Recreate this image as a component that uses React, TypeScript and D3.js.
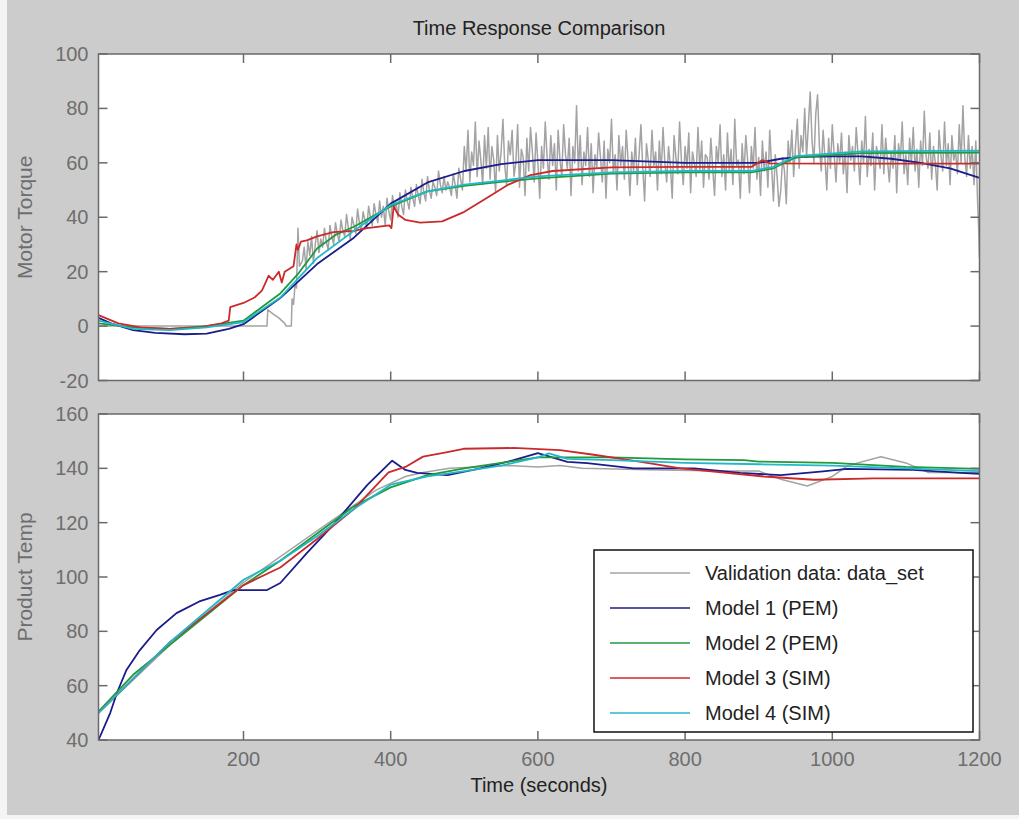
import React from 'react';
import * as d3 from 'd3';

type P = [number, number];

const xTicks = [200, 400, 600, 800, 1000, 1200];
const torqueTicks = [-20, 0, 20, 40, 60, 80, 100];
const tempTicks = [40, 60, 80, 100, 120, 140, 160];

const seriesNames = ['Validation data: data_set', 'Model 1 (PEM)', 'Model 2 (PEM)', 'Model 3 (SIM)', 'Model 4 (SIM)'];
const seriesColors = ['#a3a3a3', '#1c1c8a', '#1f9a3c', '#cc2a2a', '#22b8c8'];

// ---- Motor Torque (top) ----
const torqueGrayEarly: P[] = [
  [3, 0], [232, 0], [233, 6], [240, 4.5], [248, 3], [256, 1], [258, 0], [265, 0],
  [266, 10], [268, 8], [270, 15], [272, 14], [274, 36], [276, 22],
];
const torqueGrayStart = 280;
const torqueGrayStep = 2.5;
const torqueGrayNoise = [
  24, 29, 21, 31, 26, 33, 23, 30, 35, 27, 32, 29, 36, 31, 28, 37, 33, 30, 38, 34,
  31, 39, 35, 33, 41, 36, 32, 40, 37, 34, 43, 38, 35, 42, 39, 36, 44, 40, 37, 45,
  41, 38, 46, 40, 44, 37, 47, 42, 39, 48, 43, 45, 40, 49, 44, 41, 50, 46, 43, 51,
  47, 44, 52, 48, 45, 54, 49, 46, 55, 50, 47, 53, 51, 48, 57, 52, 49, 55, 50, 53,
  51, 48, 56, 52, 47, 58, 54, 50, 66, 57, 72, 53, 64, 59, 75, 55, 68, 61, 52, 70,
  58, 73, 54, 66, 61, 49, 70, 57, 64, 76, 59, 52, 68, 63, 72, 55, 60, 74, 51, 65,
  62, 48, 69, 57, 73, 64, 53, 71, 60, 47, 66, 58, 75, 62, 54, 70, 59, 67, 50, 72,
  61, 55, 74, 63, 58, 69, 48, 66, 60, 81, 57, 70, 52, 64, 59, 73, 55, 67, 49, 63,
  58, 71, 62, 53, 68, 47, 65, 60, 76, 56, 63, 50, 70, 59, 66, 54, 72, 61, 48, 64,
  57, 69, 52, 63, 74, 58, 46, 67, 61, 55, 72, 59, 64, 50, 68, 56, 73, 60, 53, 66,
  59, 47, 70, 62, 56, 75, 61, 52, 66, 58, 71, 49, 64, 60, 55, 73, 57, 68, 51, 63,
  62, 54, 69, 58, 48, 66, 60, 74, 55, 63, 50, 71, 57, 65, 52, 76, 59, 61, 47, 67,
  56, 70, 61, 49, 66, 58, 73, 54, 62, 48, 68, 57, 64, 51, 72, 59, 46, 63, 55, 44,
  50, 62, 57, 45, 68, 60, 72, 55, 66, 76, 58, 70, 64, 80, 62, 74, 86, 68, 60, 78,
  85, 66, 57, 72, 62, 50, 69, 58, 74, 63, 53, 67, 60, 71, 56, 64, 49, 70, 61, 66,
  57, 73, 63, 52, 68, 60, 77, 55, 65, 59, 71, 50, 66, 62, 58, 74, 56, 69, 61, 53,
  64, 58, 70, 49, 67, 61, 75, 56, 63, 52, 69, 60, 73, 57, 65, 51, 68, 59, 79, 62,
  58, 71, 54, 66, 60, 50, 72, 63, 57, 75, 59, 67, 52, 70, 61, 64, 56, 74, 60, 81,
  62, 55, 70, 58, 66, 52, 68, 45,
];
const torqueGrayEnd: P[] = [[1199, 35], [1200, 25]];

const torqueM1: P[] = [
  [3, 3], [20, 1], [50, -1.5], [80, -2.5], [120, -3], [150, -2.8], [180, -1], [200, 0.7],
  [250, 10.3], [300, 22.8], [350, 32.5], [400, 45], [450, 52.8], [500, 57], [550, 59.5],
  [600, 61], [700, 61], [800, 60], [900, 60], [930, 61.5], [960, 62.2], [1000, 62.4],
  [1040, 62.4], [1080, 61.5], [1120, 60], [1160, 58], [1200, 54.5],
];
const torqueM2: P[] = [
  [3, 1], [50, -0.5], [100, -1], [150, 0], [200, 2], [250, 12], [275, 19.5], [300, 28.5],
  [325, 33.5], [350, 36.5], [400, 44], [450, 49.5], [500, 51.5], [550, 53], [600, 54.3],
  [700, 56], [800, 56.5], [890, 56.5], [920, 58], [950, 62], [1040, 63.6], [1200, 63.8],
];
const torqueM3: P[] = [
  [3, 4], [30, 1], [60, -0.5], [100, -1], [140, -0.5], [170, 1], [180, 2], [182, 7],
  [200, 8.5], [215, 10.5], [225, 13], [230, 16], [234, 18.5], [240, 17], [248, 20],
  [252, 16], [256, 20], [262, 21], [268, 22], [272, 30], [274, 28], [278, 31], [286, 31.5],
  [300, 33], [322, 34.5], [350, 35], [368, 36], [398, 37], [401, 36], [404, 44], [410, 41],
  [420, 39], [440, 38], [470, 38.5], [500, 42], [530, 47], [560, 52], [590, 55.5],
  [620, 57], [700, 58.3], [800, 58.5], [890, 58.5], [905, 61], [915, 59.8], [1000, 59.7],
  [1200, 59.7],
];
const torqueM4: P[] = [
  [3, 2], [50, -1], [100, -1.5], [150, -0.5], [200, 1.5], [250, 10.5], [300, 25],
  [350, 35], [400, 44.5], [450, 49.5], [500, 52], [600, 55], [700, 56.5], [800, 57],
  [890, 57], [920, 58.5], [950, 62.5], [1040, 64.2], [1200, 64.5],
];

// ---- Product Temp (bottom) ----
const tempGray: P[] = [
  [3, 50], [100, 75], [200, 98], [300, 117], [380, 132], [420, 137], [444, 138.5],
  [480, 140], [560, 141], [600, 140.5], [630, 141], [660, 140], [750, 139.5], [850, 139],
  [900, 139], [930, 136], [966, 133.5], [1000, 137], [1021, 141], [1066, 144.3],
  [1100, 142], [1130, 138.5], [1200, 138.5],
];
const tempM1: P[] = [
  [3, 40], [19, 50], [28, 57.3], [41, 65.8], [59, 73], [82, 80.5], [109, 86.7], [140, 91],
  [168, 93.4], [186, 95.2], [232, 95.2], [250, 97.8], [286, 108.8], [322, 119.2],
  [368, 133.8], [402, 142.8], [420, 139.4], [436, 138.3], [477, 137.5], [522, 140],
  [567, 143], [600, 145.6], [640, 142.4], [667, 141.9], [730, 140], [812, 140],
  [875, 138.3], [930, 137.5], [984, 138.8], [1020, 139.8], [1110, 139.4], [1174, 138.3],
  [1200, 138],
];
const tempM2: P[] = [
  [3, 50.5], [50, 64], [100, 75], [150, 86], [200, 97], [250, 106], [300, 116],
  [350, 126], [400, 133], [450, 137.5], [500, 140], [550, 142], [600, 144], [700, 144],
  [800, 143.3], [880, 143], [900, 142.5], [1000, 142], [1100, 140.5], [1200, 139.8],
];
const tempM3: P[] = [
  [3, 50], [100, 76], [200, 97], [250, 103.5], [300, 114], [350, 125], [397, 138.5],
  [420, 140.5], [444, 144.3], [477, 146], [499, 147.2], [567, 147.5], [630, 146.7],
  [676, 145], [740, 142.4], [794, 140], [839, 138.8], [907, 137], [975, 135.8],
  [1057, 136.3], [1200, 136.3],
];
const tempM4: P[] = [
  [3, 50], [100, 76], [200, 99], [250, 106], [300, 115], [350, 125], [400, 134],
  [450, 137], [500, 139], [550, 141], [600, 144], [615, 145.5], [640, 143.5], [700, 143],
  [800, 142], [900, 141.5], [1000, 141], [1100, 140], [1200, 139],
];

const torqueGray: P[] = [
  ...torqueGrayEarly,
  ...torqueGrayNoise.map((v, i) => [torqueGrayStart + i * torqueGrayStep, v] as P),
  ...torqueGrayEnd,
];

const FONT = "'Liberation Sans', Arial, Helvetica, sans-serif";
const W = 1019;
const H = 819;
const X0 = 98.5;
const X1 = 979.5;

const x = d3.scaleLinear().domain([3, 1200]).range([X0, X1]);

interface PanelProps {
  id: string;
  y: d3.ScaleLinear<number, number>;
  yTicks: number[];
  series: P[][];
  showX: boolean;
  ylabel: string;
}

function Panel({ id, y, yTicks, series, showX, ylabel }: PanelProps) {
  const [yb, yt] = y.range();
  const line = d3.line<P>().x(d => x(d[0])).y(d => y(d[1]));
  const tl = 9;
  const axisCol = '#6a6a6a';
  const textCol = '#6e6e6e';
  return (
    <g>
      <defs>
        <clipPath id={id}>
          <rect x={X0} y={yt} width={X1 - X0} height={yb - yt} />
        </clipPath>
      </defs>
      <rect x={X0} y={yt} width={X1 - X0} height={yb - yt} fill="#ffffff" />
      <g clipPath={`url(#${id})`}>
        {series.map((s, i) => (
          <path key={i} d={line(s) || ''} fill="none" stroke={seriesColors[i]}
            strokeWidth={i === 0 ? 1.5 : 1.8} strokeLinejoin="round" />
        ))}
      </g>
      {xTicks.map(t => (
        <g key={'x' + t}>
          <line x1={x(t)} x2={x(t)} y1={yb} y2={yb - tl} stroke={axisCol} strokeWidth={1.5} />
          <line x1={x(t)} x2={x(t)} y1={yt} y2={yt + tl} stroke={axisCol} strokeWidth={1.5} />
          {showX && (
            <text x={x(t)} y={yb + 26} textAnchor="middle" fontFamily={FONT} fontSize={20} fill={textCol}>{t}</text>
          )}
        </g>
      ))}
      {yTicks.map(v => (
        <g key={'y' + v}>
          <line x1={X0} x2={X0 + tl} y1={y(v)} y2={y(v)} stroke={axisCol} strokeWidth={1.5} />
          <line x1={X1} x2={X1 - tl} y1={y(v)} y2={y(v)} stroke={axisCol} strokeWidth={1.5} />
          <text x={X0 - 10} y={y(v) + 7} textAnchor="end" fontFamily={FONT} fontSize={20} fill={textCol}>{v}</text>
        </g>
      ))}
      <rect x={X0} y={yt} width={X1 - X0} height={yb - yt} fill="none" stroke={axisCol} strokeWidth={1.5} />
      <text transform={`translate(32,${(yt + yb) / 2}) rotate(-90)`} textAnchor="middle"
        fontFamily={FONT} fontSize={21} fill={textCol}>{ylabel}</text>
    </g>
  );
}

export default function App() {
  const yTop = d3.scaleLinear().domain([-20, 100]).range([380.5, 54]);
  const yBot = d3.scaleLinear().domain([40, 160]).range([740, 414]);
  const legX = 594, legY = 550, legW = 379, legH = 182;
  return (
    <svg width={W} height={H} style={{ position: 'absolute', left: 0, top: 0 }}>
      <rect x={0} y={0} width={W} height={H} fill="#f4f4f4" />
      <rect x={7} y={0} width={W - 7} height={815} fill="#cccccc" />
      <text x={(X0 + X1) / 2} y={35} textAnchor="middle" fontFamily={FONT} fontSize={20} fill="#222">Time Response Comparison</text>
      <Panel id="clipTop" y={yTop} yTicks={torqueTicks}
        series={[torqueGray, torqueM1, torqueM2, torqueM3, torqueM4]} showX={false} ylabel="Motor Torque" />
      <Panel id="clipBot" y={yBot} yTicks={tempTicks}
        series={[tempGray, tempM1, tempM2, tempM3, tempM4]} showX={true} ylabel="Product Temp" />
      <text x={(X0 + X1) / 2} y={792} textAnchor="middle" fontFamily={FONT} fontSize={20} fill="#222">Time (seconds)</text>
      <g>
        <rect x={legX} y={legY} width={legW} height={legH} fill="#ffffff" stroke="#111" strokeWidth={1.5} />
        {seriesNames.map((n, i) => (
          <g key={n}>
            <line x1={legX + 16} x2={legX + 96} y1={legY + 23 + i * 35} y2={legY + 23 + i * 35}
              stroke={seriesColors[i]} strokeWidth={1.6} />
            <text x={legX + 111} y={legY + 30 + i * 35} fontFamily={FONT} fontSize={20} fill="#222">{n}</text>
          </g>
        ))}
      </g>
    </svg>
  );
}
